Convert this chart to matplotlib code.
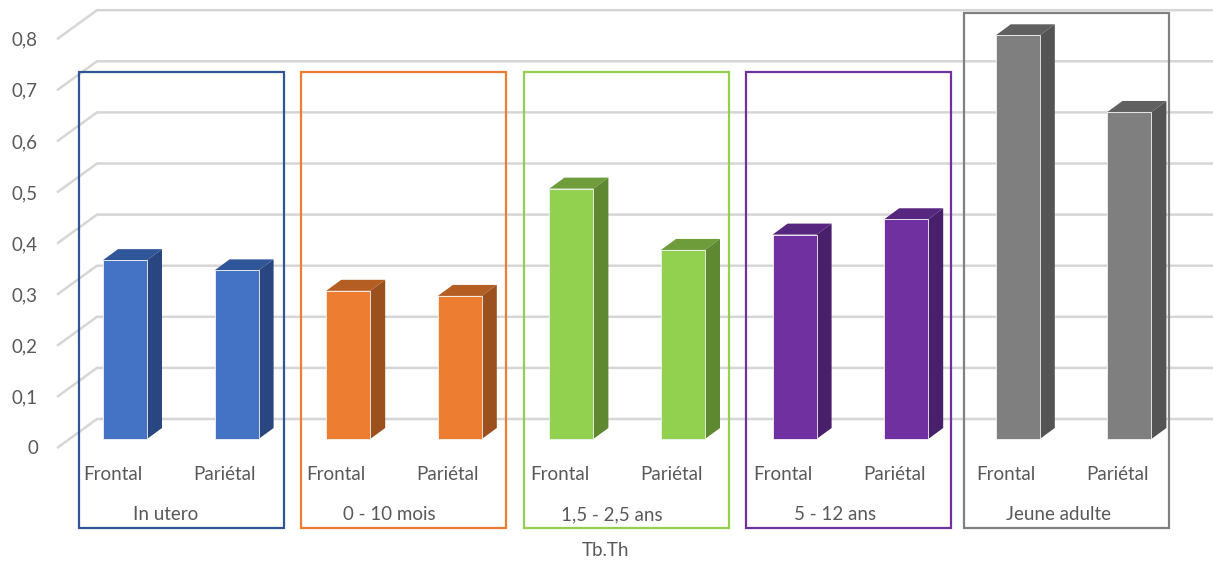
import matplotlib.pyplot as plt
from matplotlib.patches import Polygon, Rectangle

groups = ["In utero", "0 - 10 mois", "1,5 - 2,5 ans", "5 - 12 ans", "Jeune adulte"]
regions = ["Frontal", "Pariétal"]
frontal = [0.35, 0.29, 0.49, 0.40, 0.79]
parietal = [0.33, 0.28, 0.37, 0.43, 0.64]
yticks = [0, 0.1, 0.2, 0.3, 0.4, 0.5, 0.6, 0.7, 0.8]
xlabel = "Tb.Th"

front_col = ["#4472C4", "#ED7D31", "#92D050", "#7030A0", "#7F7F7F"]
side_col = ["#2A4680", "#9B501E", "#5F8832", "#481F6A", "#545454"]
top_col = ["#30569A", "#B55E23", "#6E9C3B", "#57267F", "#606060"]
box_col = ["#2F5597", "#ED7D31", "#92D050", "#7030A0", "#808080"]

W, H = 1213, 565
PX_X = 111.6   # pixels per bar slot
PX_Y = 511.0   # pixels per unit of value
X0, Y0 = 125, 439  # pixel position of slot 0 / value 0 (bar front plane)

def dx(px):
    return px / PX_X

def dy(px):
    return px / PX_Y

fig = plt.figure(figsize=(W / 100, H / 100), dpi=100)
ax = fig.add_axes([0, 0, 1, 1])
ax.set_xlim(-X0 / PX_X, (W - X0) / PX_X)
ax.set_ylim(-(H - Y0) / PX_Y, Y0 / PX_Y)
ax.axis("off")

font = "Lato"
tcol = "#595959"
fs = 13.5

# walls: gridlines on back wall + side wall diagonals
for v in yticks:
    xf, yf = dx(57 - X0), v - dy(9)
    xb, yb = dx(97 - X0), v + dy(20)
    ax.plot([xf, xb, dx(W - X0)], [yf, yb, yb], color="#D6D6D6", lw=1.8,
            solid_capstyle="butt", zorder=1)
    ax.text(dx(38 - X0), v - dy(10), ("%.1f" % v).replace(".", ",") if v else "0",
            ha="right", va="center", fontsize=fs, color=tcol, family=font)

# bars
hw = dx(22)
ddx, ddy = dx(15), dy(11)
for g in range(len(groups)):
    for k, vals in enumerate([frontal, parietal]):
        i = 2 * g + k
        v = vals[g]
        x1, x2 = i - hw, i + hw
        top = Polygon([(x1, v), (x2, v), (x2 + ddx, v + ddy), (x1 + ddx, v + ddy)],
                      closed=True, fc=top_col[g], ec="none", zorder=3)
        side = Polygon([(x2, 0), (x2 + ddx, ddy), (x2 + ddx, v + ddy), (x2, v)],
                       closed=True, fc=side_col[g], ec="none", zorder=3)
        face = Rectangle((x1, 0), x2 - x1, v, fc=front_col[g], ec="#F2F2F2",
                         lw=0.6, zorder=4)
        ax.add_patch(top)
        ax.add_patch(side)
        ax.add_patch(face)
        ax.text(i - dx(12), -dy(36), regions[k], ha="center", va="center",
                fontsize=fs, color=tcol, family=font, zorder=5)
    gc = 2 * g + 0.5
    ax.text(gc - dx(15), -dy(76), groups[g], ha="center", va="center",
            fontsize=fs, color=tcol, family=font, zorder=5)

# group frames (drawn shapes)
box_left = [79, 301, 524, 746, 964]
box_top = [72, 72, 72, 72, 13]
box_w = 205
box_bottom = 528
for g in range(len(groups)):
    x1 = dx(box_left[g] - X0)
    yb = -dy(box_bottom - Y0)
    yt = dy(Y0 - box_top[g])
    ax.add_patch(Rectangle((x1, yb), dx(box_w), yt - yb, fill=False,
                           ec=box_col[g], lw=1.6, zorder=6))

ax.text(dx(606 - X0), -dy(551 - Y0), xlabel, ha="center", va="center",
        fontsize=fs, color=tcol, family=font)

fig.savefig("out.png", dpi=100)
